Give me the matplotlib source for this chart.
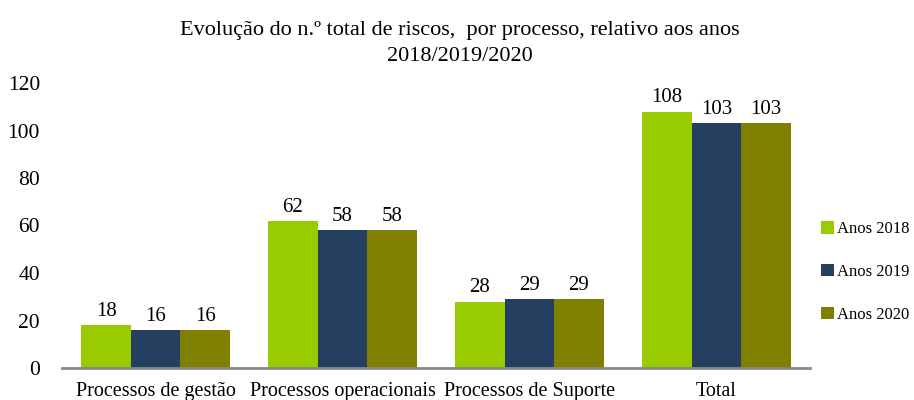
import numpy as np
import matplotlib.pyplot as plt

plt.rcParams['font.family'] = ['Liberation Serif', 'DejaVu Serif']

# data
categorias = ['Processos de gestão', 'Processos operacionais', 'Processos de Suporte', 'Total']
anos_2018 = [18, 62, 28, 108]
anos_2019 = [16, 58, 29, 103]
anos_2020 = [16, 58, 29, 103]
series = ['Anos 2018', 'Anos 2019', 'Anos 2020']
cores = ['#99CC00', '#243F60', '#808000']

fig = plt.figure(figsize=(9.14, 4.0), dpi=100)
ax = fig.add_axes([0.068, 0.08, 0.818, 0.7125])

x = np.arange(len(categorias))
w = 0.265
for i, (vals, nome, cor) in enumerate(zip([anos_2018, anos_2019, anos_2020], series, cores)):
    bars = ax.bar(x + (i - 1) * w, vals, w, color=cor, label=nome)
    ax.bar_label(bars, padding=3, fontsize=15)

ax.set_xlim(-0.5, 3.5)
ax.set_ylim(0, 120)
ax.set_yticks(range(0, 121, 20))
ax.set_xticks(x)
ax.set_xticklabels(categorias, fontsize=14.5)
ax.tick_params(axis='y', labelsize=15.5, length=0, pad=16)
ax.tick_params(axis='x', length=0, pad=10)

for s in ['top', 'right', 'left']:
    ax.spines[s].set_visible(False)
ax.spines['bottom'].set_color('#888888')
ax.spines['bottom'].set_linewidth(2)

ax.set_title('Evolução do n.º total de riscos,  por processo, relativo aos anos\n2018/2019/2020',
             fontsize=16, pad=16, x=0.532, linespacing=1.45)

ax.legend(loc='center left', bbox_to_anchor=(0.995, 0.337), frameon=False, fontsize=12,
          handlelength=0.75, handleheight=0.75, handletextpad=0.2, labelspacing=1.6)

fig.savefig('out.png', dpi=100)
